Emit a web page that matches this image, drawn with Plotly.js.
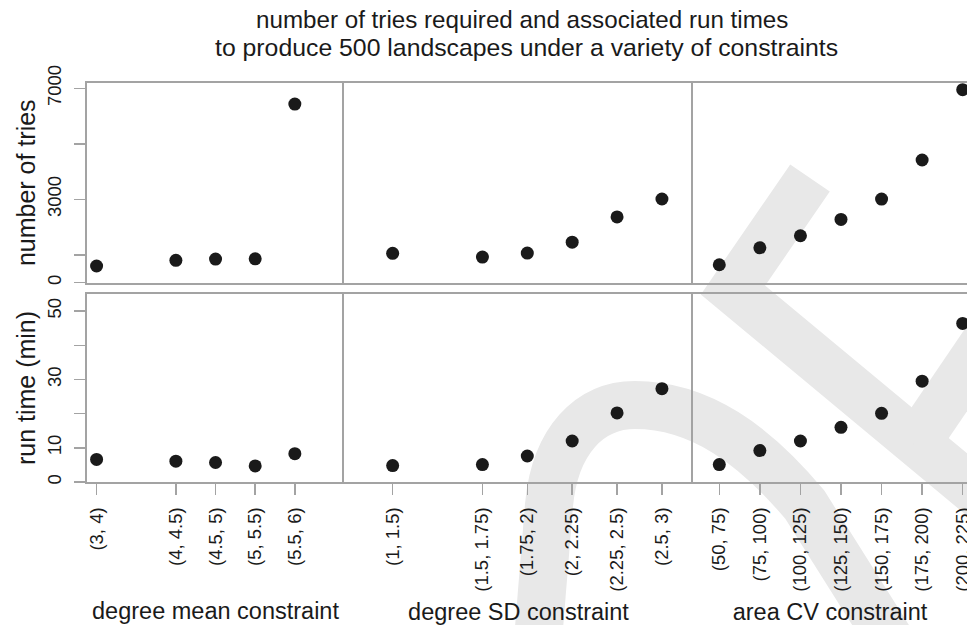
<!DOCTYPE html>
<html>
<head>
<meta charset="utf-8">
<script src="https://cdn.plot.ly/plotly-3.0.1.min.js"></script>
<style>
  html, body { margin: 0; padding: 0; background: #ffffff; overflow: hidden; }
  #chart { width: 967px; height: 625px; }
</style>
</head>
<body>
<div id="chart"></div>
<script>
// ---- data ----
const meanLabels = ['(3, 4)', '(4, 4.5)', '(4.5, 5)', '(5, 5.5)', '(5.5, 6)'];
const sdLabels   = ['(1, 1.5)', '(1.5, 1.75)', '(1.75, 2)', '(2, 2.25)', '(2.25, 2.5)', '(2.5, 3)'];
const cvLabels   = ['(50, 75)', '(75, 100)', '(100, 125)', '(125, 150)', '(150, 175)', '(175, 200)', '(200, 225)'];

const meanTries = [595, 800, 845, 855, 6430];
const sdTries   = [1050, 915, 1060, 1455, 2365, 3010];
const cvTries   = [640, 1250, 1685, 2275, 3005, 4415, 6950];

const meanTime = [6.6, 6.1, 5.7, 4.7, 8.3];
const sdTime   = [4.8, 5.1, 7.6, 12.0, 20.2, 27.3];
const cvTime   = [5.1, 9.2, 12.0, 16.0, 20.1, 29.5, 46.4];

const triesTickVals = [0, 1000, 3000, 5000, 7000];
const triesTickText = ['0', '', '3000', '', '7000'];
const timeTickVals  = [0, 10, 20, 30, 40, 50];
const timeTickText  = ['0', '10', '', '30', '', '50'];

const groupTitles = ['degree mean constraint', 'degree SD constraint', 'area CV constraint'];
const rowTitles = ['number of tries', 'run time (min)'];
const titleLines = ['number of tries required and associated run times',
                    'to produce 500 landscapes under a variety of constraints'];

// position of each interval on its axis = its lower bound
const lowerBound = labels => labels.map(s => parseFloat(s.replace('(', '').split(',')[0]));

// ---- styling ----
const W = 967, H = 625;
const M = {l: 87, r: 0, t: 83, b: 143};
const pw = W - M.l - M.r, ph = H - M.t - M.b;
const px2x = p => (p - M.l) / pw;
const px2y = p => (H - M.b - p) / ph;

const LINE = '#a3a3a3';
const TXT = '#1a1a1a';
const FONT = 'Liberation Sans, Arial, Helvetica, sans-serif';
const TICKSIZE = 18.5;
const TITLESIZE = 25;

const xDomains = [[0, px2x(344)], [px2x(344), px2x(693)], [px2x(693), 1]];
const xRanges = [[2.879, 6.12], [0.729, 2.673], [33.8, 202.65]];
const topDomain = [px2y(282.5), 1];
const botDomain = [0, px2y(294)];
const triesRange = [0, 7190];
const timeRange = [0, 55];

const groups = [
  {labels: meanLabels, tries: meanTries, time: meanTime},
  {labels: sdLabels, tries: sdTries, time: sdTime},
  {labels: cvLabels, tries: cvTries, time: cvTime}
];
const xTitleStandoff = [38, 14, 14];

// light grey watermark bands drawn behind the chart (pixel centre-lines)
const wmPaths = [
  [['M', 538, 640], ['L', 549, 505], ['C', 555, 440, 590, 405, 635, 405], ['C', 700, 405, 755, 445, 805, 505], ['L', 890, 640]],
  [['M', 810, 178], ['L', 733, 290], ['L', 1000, 512]],
  [['M', 1000, 320], ['L', 915, 445]]
];
const toPath = segs => segs.map(s => {
  const out = [s[0]];
  for (let k = 1; k < s.length; k += 2) out.push(px2x(s[k]).toFixed(4) + ',' + px2y(s[k + 1]).toFixed(4));
  return out[0] + ' ' + out.slice(1).join(' ');
}).join(' ');

const marker = {color: '#1a1a1a', size: 13, line: {width: 0}};
const traces = [];
const layout = {
  width: W, height: H,
  margin: M,
  paper_bgcolor: '#ffffff',
  plot_bgcolor: 'rgba(0,0,0,0)',
  showlegend: false,
  font: {family: FONT, color: TXT},
  annotations: [
    {text: titleLines[0], xref: 'paper', yref: 'paper', x: px2x(522), y: px2y(20),
     xanchor: 'center', yanchor: 'middle', showarrow: false, font: {size: 24.2, color: TXT, family: FONT}},
    {text: titleLines[1], xref: 'paper', yref: 'paper', x: px2x(526), y: px2y(48),
     xanchor: 'center', yanchor: 'middle', showarrow: false, font: {size: 24.8, color: TXT, family: FONT}}
  ],
  shapes: wmPaths.map(p => ({type: 'path', xref: 'paper', yref: 'paper', path: toPath(p),
                             line: {color: '#e8e8e8', width: 48}, fillcolor: 'rgba(0,0,0,0)', layer: 'below'}))
};

groups.forEach((g, i) => {
  const xs = lowerBound(g.labels);
  const nTop = i + 1, nBot = i + 4;
  const kTop = nTop === 1 ? '' : String(nTop);
  const kBot = String(nBot);
  traces.push({x: xs, y: g.tries, type: 'scatter', mode: 'markers', marker: marker,
               xaxis: 'x' + kTop, yaxis: 'y' + kTop, hoverinfo: 'x+y'});
  traces.push({x: xs, y: g.time, type: 'scatter', mode: 'markers', marker: marker,
               xaxis: 'x' + kBot, yaxis: 'y' + kBot, hoverinfo: 'x+y'});

  const baseX = {
    domain: xDomains[i], range: xRanges[i], showgrid: false, zeroline: false,
    showline: true, mirror: true, linecolor: LINE, linewidth: 2, fixedrange: true
  };
  layout['xaxis' + kTop] = Object.assign({}, baseX, {
    anchor: 'y' + kTop, ticks: '', showticklabels: false
  });
  layout['xaxis' + kBot] = Object.assign({}, baseX, {
    anchor: 'y' + kBot, ticks: 'outside', ticklen: 11, tickwidth: 1.5, tickcolor: LINE,
    tickmode: 'array', tickvals: xs, ticktext: g.labels, tickangle: -90,
    ticklabelstandoff: 5, ticklabeloverflow: 'allow',
    tickfont: {size: TICKSIZE, color: TXT, family: FONT},
    title: {text: groupTitles[i], font: {size: 23.5, color: TXT, family: FONT}, standoff: xTitleStandoff[i]}
  });

  const baseY = {showgrid: false, zeroline: false, showline: true, mirror: false,
                 linecolor: LINE, linewidth: 2, fixedrange: true};
  if (i === 0) {
    layout['yaxis' + kTop] = Object.assign({}, baseY, {
      anchor: 'x' + kTop, domain: topDomain, range: triesRange,
      ticks: 'outside', ticklen: 11, tickwidth: 1.5, tickcolor: LINE,
      tickmode: 'array', tickvals: triesTickVals, ticktext: triesTickText, tickangle: -90,
      ticklabelstandoff: 6,
      tickfont: {size: TICKSIZE, color: TXT, family: FONT},
      title: {text: rowTitles[0], font: {size: TITLESIZE, color: TXT, family: FONT}, standoff: 1}
    });
    layout['yaxis' + kBot] = Object.assign({}, baseY, {
      anchor: 'x' + kBot, domain: botDomain, range: timeRange,
      ticks: 'outside', ticklen: 11, tickwidth: 1.5, tickcolor: LINE,
      tickmode: 'array', tickvals: timeTickVals, ticktext: timeTickText, tickangle: -90,
      ticklabelstandoff: 6,
      tickfont: {size: TICKSIZE, color: TXT, family: FONT},
      title: {text: rowTitles[1], font: {size: TITLESIZE, color: TXT, family: FONT}, standoff: 1}
    });
  } else {
    layout['yaxis' + kTop] = Object.assign({}, baseY, {
      anchor: 'x' + kTop, domain: topDomain, range: triesRange, ticks: '', showticklabels: false
    });
    layout['yaxis' + kBot] = Object.assign({}, baseY, {
      anchor: 'x' + kBot, domain: botDomain, range: timeRange, ticks: '', showticklabels: false
    });
  }
});

Plotly.newPlot('chart', traces, layout, {displayModeBar: false, staticPlot: true});
</script>
</body>
</html>
